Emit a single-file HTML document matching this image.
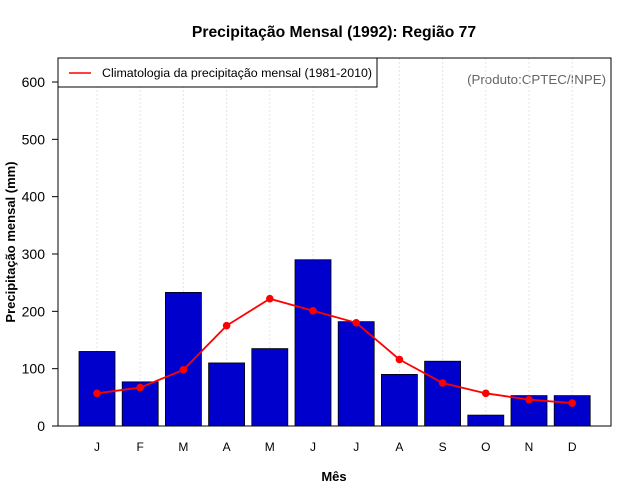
<!DOCTYPE html>
<html><head><meta charset="utf-8"><style>
body{margin:0;background:#fff}
svg{display:block;font-family:"Liberation Sans",sans-serif}
</style></head><body>
<svg id="chart" width="640" height="500">
<rect x="0" y="0" width="640" height="500" fill="#fff"/>
<text x="334" y="37" text-anchor="middle" font-size="15.7" font-weight="bold">Precipitação Mensal (1992): Região 77</text>
<text x="334" y="481" text-anchor="middle" font-size="13" font-weight="bold">Mês</text>
<text transform="translate(15,242) rotate(-90)" text-anchor="middle" font-size="13" font-weight="bold">Precipitação mensal (mm)</text>
<text x="606" y="84" text-anchor="end" font-size="13.3" fill="#666">(Produto:CPTEC/INPE)</text>
<g id="grid"></g><g id="bars"></g><g id="line"></g><g id="axes"></g>
<rect x="58" y="58" width="553" height="368" fill="none" stroke="#000" stroke-width="1"/>
<g>
<rect x="58" y="58" width="319" height="29" fill="#fff" stroke="#000"/>
<line x1="69" y1="73" x2="91" y2="73" stroke="#f00" stroke-width="1.5"/>
<text x="102" y="77" font-size="12.4">Climatologia da precipitação mensal (1981-2010)</text>
</g>
</svg>
<script>
const months=["J","F","M","A","M","J","J","A","S","O","N","D"];
const precip=[130,77,233,110,135,290,182,90,113,19,53,53];
const clim=[57,67,98,175,222,201,180,116,75,57,46,40];
const yTicks=[0,100,200,300,400,500,600];
const NS="http://www.w3.org/2000/svg";
const xC=i=>97+43.2*i;
const yS=v=>426-v*(344/600);
function mk(t,a,p){const e=document.createElementNS(NS,t);for(const k in a)e.setAttribute(k,a[k]);p.appendChild(e);return e;}
const g=document.getElementById('grid'),b=document.getElementById('bars'),l=document.getElementById('line'),ax=document.getElementById('axes');
months.forEach((m,i)=>{
 const gl=mk('line',{x1:xC(i),x2:xC(i),y1:58,y2:426,stroke:'#e4e4e4','stroke-dasharray':'2,2'},g);
 
 
 const r=mk('rect',{x:xC(i)-18,y:yS(precip[i]),width:36,height:yS(0)-yS(precip[i]),fill:'#0000cd',stroke:'#000','stroke-width':0.8},b);
 
 
 const t=mk('text',{x:xC(i),y:451,'text-anchor':'middle','font-size':12},ax);
 t.textContent=m;
 
 
});
const pl=mk('polyline',{points:clim.map((v,i)=>xC(i)+','+yS(v)).join(' '),fill:'none',stroke:'#f00','stroke-width':1.8},l);


clim.forEach((v,i)=>{
 const c=mk('circle',{cx:xC(i),cy:yS(v),r:3.8,fill:'#f00'},l);
 
 
});
yTicks.forEach(v=>{
 const tk=mk('line',{x1:52,x2:58,y1:yS(v),y2:yS(v),stroke:'#000'},ax);
 
 
 const t=mk('text',{x:45,y:yS(v)+5,'text-anchor':'end','font-size':14},ax);
 t.textContent=v;
 
 
});
</script>
</body></html>
